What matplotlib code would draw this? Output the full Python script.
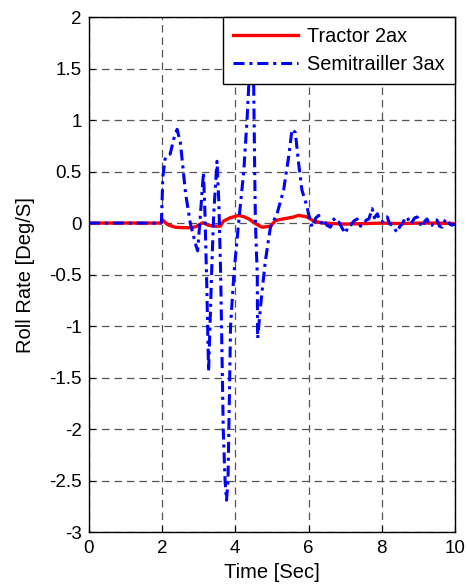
import matplotlib
matplotlib.use("Agg")
import matplotlib.pyplot as plt
from matplotlib.ticker import FuncFormatter

plt.rcParams['font.family'] = ['Liberation Sans', 'DejaVu Sans']

# Tractor 2ax roll rate
t_tractor = [0, 1.95, 2.02, 2.1, 2.18, 2.36, 2.6, 2.82, 2.95, 3.09, 3.15, 3.25, 3.41, 3.59, 3.68,
             3.85, 4.09, 4.25, 4.37, 4.55, 4.73, 4.96, 5.1, 5.3, 5.46, 5.6, 5.73, 5.96, 6.14,
             6.4, 7.0, 7.5, 8.0, 8.5, 9.0, 9.5, 10.0]
y_tractor = [0, 0, 0.03, 0.0, -0.02, -0.04, -0.045, -0.045, -0.03, 0.0, 0.0, -0.02, -0.03, -0.03, 0.02,
             0.05, 0.075, 0.06, 0.04, -0.005, -0.04, -0.03, 0.025, 0.04, 0.05, 0.06, 0.075, 0.06, 0.02,
             0.0, -0.01, -0.005, 0.0, -0.005, 0.0, 0.0, -0.005]

# Semitrailler 3ax roll rate
t_semi = [0, 1.98, 2.02, 2.08, 2.14, 2.22, 2.32, 2.41, 2.5, 2.64, 2.77, 2.91, 2.97, 3.05, 3.13,
          3.17, 3.22, 3.27, 3.36, 3.41, 3.5, 3.55, 3.6, 3.67, 3.72, 3.76, 3.8, 3.87, 3.96, 4.09,
          4.23, 4.32, 4.37, 4.43, 4.5, 4.53, 4.55, 4.6, 4.61, 4.64, 4.72, 4.82, 4.96, 5.14,
          5.32, 5.46, 5.55, 5.64, 5.73, 5.82, 5.96, 6.0, 6.1, 6.2, 6.28, 6.35, 6.42, 6.5, 6.6,
          6.69, 6.76, 6.83, 6.92, 7.01, 7.08, 7.15, 7.24, 7.33, 7.42, 7.51, 7.58, 7.65, 7.74,
          7.8, 7.88, 7.95, 8.02, 8.08, 8.15, 8.22, 8.29, 8.36, 8.42, 8.5, 8.56, 8.63, 8.7,
          8.77, 8.83, 8.9, 8.97, 9.04, 9.11, 9.18, 9.24, 9.31, 9.38, 9.45, 9.51, 9.58, 9.65,
          9.72, 9.79, 9.86, 9.92, 10.0]
y_semi = [0, 0, 0.45, 0.62, 0.66, 0.67, 0.82, 0.91, 0.78, 0.29, 0.0, -0.2, -0.27, 0.1, 0.49,
          0.1, -0.6, -1.44, -0.4, 0.09, 0.6, 0.2, -0.5, -2.0, -2.5, -2.69, -2.5, -1.0, -0.5, 0.0,
          0.5, 1.0, 1.35, 1.75, 1.4, 0.5, 0.0, -0.5, -1.12, -1.0, -0.7, -0.37, -0.04, 0.09,
          0.32, 0.65, 0.91, 0.88, 0.58, 0.32, 0.16, 0.09, -0.04, 0.05, 0.075, 0.0, 0.03, -0.02, -0.04,
          0.04, 0.0, 0.01, -0.05, -0.1, -0.03, -0.02, 0.02, 0.04, -0.03, -0.01, 0.03, 0.04, 0.14,
          0.05, 0.09, 0.02, 0.01, 0.05, 0.06, -0.01, -0.02, -0.06, -0.09, -0.03, -0.01, 0.04, 0.06,
          -0.01, 0.01, 0.05, 0.06, 0.0, -0.04, 0.02, 0.04, -0.03, -0.02, 0.03, 0.03, -0.03, -0.04,
          0.02, 0.04, -0.01, -0.02, -0.01]

x_ticks = [0, 2, 4, 6, 8, 10]
y_ticks = [-3, -2.5, -2, -1.5, -1, -0.5, 0, 0.5, 1, 1.5, 2]

fig = plt.figure(figsize=(4.68, 5.88), dpi=100)
ax = fig.add_axes([0.19, 0.095, 0.782, 0.876])

ax.plot(t_tractor, y_tractor, color='#ff0000', lw=2.4, label='Tractor 2ax', zorder=3)
ax.plot(t_semi, y_semi, color='#0000ff', lw=2.2, linestyle=(0, (3.6, 1.6, 1.0, 1.6)),
        label='Semitrailler 3ax', zorder=4)

ax.set_xlim(0, 10)
ax.set_ylim(-3, 2)
ax.set_xticks(x_ticks)
ax.set_yticks(y_ticks)
ax.yaxis.set_major_formatter(FuncFormatter(lambda v, p: ('%g' % v)))
ax.tick_params(direction='in', length=4, labelsize=13.5, colors='black', width=0.8)
ax.tick_params(axis='x', pad=6)
ax.tick_params(axis='y', pad=5)
ax.grid(True, color='#555555', linestyle=(0, (6, 4)), linewidth=0.9)
for s in ax.spines.values():
    s.set_linewidth(1.0)
    s.set_color('black')

ax.set_xlabel('Time [Sec]', fontsize=14.5, labelpad=4)
ax.set_ylabel('Roll Rate [Deg/S]', fontsize=14.5, labelpad=10)

leg = ax.legend(loc='upper right', borderaxespad=0, fontsize=14.3, handlelength=3.3,
                fancybox=False, framealpha=1, edgecolor='black', borderpad=0.5,
                labelspacing=0.45, handletextpad=0.45)
leg.get_frame().set_linewidth(1.0)
leg.set_zorder(10)

fig.savefig('out.png', dpi=100)
